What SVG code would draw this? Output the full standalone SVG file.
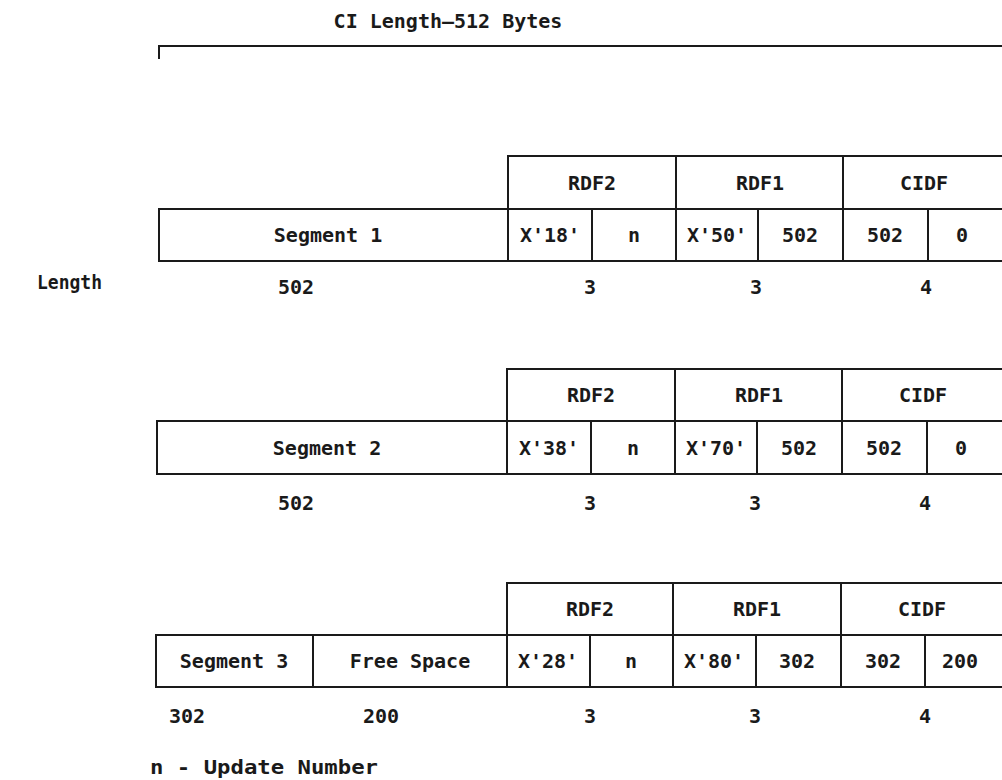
<svg xmlns="http://www.w3.org/2000/svg" width="1002" height="780" viewBox="0 0 1002 780">
<style>
.t{font-family:"DejaVu Sans Mono","Liberation Mono",monospace;font-weight:bold;font-size:20px;fill:#1a1a1a;text-anchor:middle}
.l{font-family:"DejaVu Sans Mono","Liberation Mono",monospace;font-weight:bold;font-size:20px;fill:#1a1a1a}
.b{fill:#fff;stroke:#1a1a1a;stroke-width:2}
.ln{stroke:#1a1a1a;stroke-width:2;fill:none}
</style>
<rect width="1002" height="780" fill="#fff"/>
<g id="title">
<text class="t" x="448" y="28">CI Length—512 Bytes</text>
<path class="ln" d="M159,59 V46 H1004"/>
</g>
<text class="l" x="37" y="289" textLength="65" lengthAdjust="spacingAndGlyphs">Length</text>
<g id="row1">
<rect class="b" x="508" y="156" width="500" height="105"/>
<rect class="b" x="159" y="209" width="849" height="52"/>
<path class="ln" d="M508,209 V261 M592,209 V261 M676,156 V261 M758,209 V261 M843,156 V261 M928,209 V261"/>
<text class="t" x="592" y="190">RDF2</text>
<text class="t" x="760" y="190">RDF1</text>
<text class="t" x="924" y="190">CIDF</text>
<text class="t" x="328" y="242">Segment 1</text>
<text class="t" x="550" y="242">X'18'</text>
<text class="t" x="634" y="242">n</text>
<text class="t" x="717" y="242">X'50'</text>
<text class="t" x="800" y="242">502</text>
<text class="t" x="885" y="242">502</text>
<text class="t" x="962" y="242">0</text>
<text class="t" x="296" y="294">502</text>
<text class="t" x="590" y="294">3</text>
<text class="t" x="756" y="294">3</text>
<text class="t" x="926" y="294">4</text>
</g>
<g id="row2">
<rect class="b" x="507" y="369" width="500" height="105"/>
<rect class="b" x="157" y="421" width="850" height="53"/>
<path class="ln" d="M507,421 V474 M591,421 V474 M675,369 V474 M757,421 V474 M842,369 V474 M927,421 V474"/>
<text class="t" x="591" y="402">RDF2</text>
<text class="t" x="759" y="402">RDF1</text>
<text class="t" x="923" y="402">CIDF</text>
<text class="t" x="327" y="455">Segment 2</text>
<text class="t" x="549" y="455">X'38'</text>
<text class="t" x="633" y="455">n</text>
<text class="t" x="716" y="455">X'70'</text>
<text class="t" x="799" y="455">502</text>
<text class="t" x="884" y="455">502</text>
<text class="t" x="961" y="455">0</text>
<text class="t" x="296" y="510">502</text>
<text class="t" x="590" y="510">3</text>
<text class="t" x="755" y="510">3</text>
<text class="t" x="925" y="510">4</text>
</g>
<g id="row3">
<rect class="b" x="507" y="583" width="500" height="104"/>
<rect class="b" x="156" y="635" width="851" height="52"/>
<path class="ln" d="M313,635 V687 M507,635 V687 M590,635 V687 M673,583 V687 M756,635 V687 M841,583 V687 M925,635 V687"/>
<text class="t" x="590" y="616">RDF2</text>
<text class="t" x="757" y="616">RDF1</text>
<text class="t" x="922" y="616">CIDF</text>
<text class="t" x="234" y="668">Segment 3</text>
<text class="t" x="410" y="668">Free Space</text>
<text class="t" x="548" y="668">X'28'</text>
<text class="t" x="631" y="668">n</text>
<text class="t" x="714" y="668">X'80'</text>
<text class="t" x="797" y="668">302</text>
<text class="t" x="883" y="668">302</text>
<text class="t" x="960" y="668">200</text>
<text class="t" x="187" y="723">302</text>
<text class="t" x="381" y="723">200</text>
<text class="t" x="590" y="723">3</text>
<text class="t" x="755" y="723">3</text>
<text class="t" x="925" y="723">4</text>
</g>
<text class="l" x="150" y="774" textLength="228" lengthAdjust="spacingAndGlyphs">n - Update Number</text>
</svg>
